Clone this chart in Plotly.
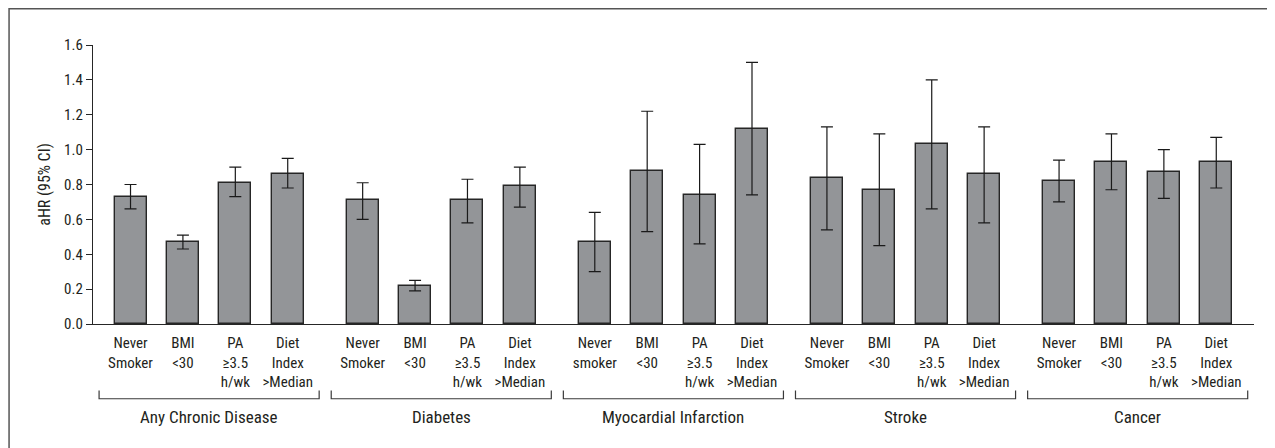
import plotly.graph_objects as go

groups = ["Any Chronic Disease", "Diabetes", "Myocardial Infarction", "Stroke", "Cancer"]
factor_labels = [
    ["Never<br>Smoker", "BMI<br><30", "PA<br>≥3.5<br>h/wk", "Diet<br>Index<br>>Median"],
    ["Never<br>Smoker", "BMI<br><30", "PA<br>≥3.5<br>h/wk", "Diet<br>Index<br>>Median"],
    ["Never<br>smoker", "BMI<br><30", "PA<br>≥3.5<br>h/wk", "Diet<br>Index<br>>Median"],
    ["Never<br>Smoker", "BMI<br><30", "PA<br>≥3.5<br>h/wk", "Diet<br>Index<br>>Median"],
    ["Never<br>Smoker", "BMI<br><30", "PA<br>≥3.5<br>h/wk", "Diet<br>Index<br>>Median"],
]
ahr = [
    [0.73, 0.47, 0.81, 0.86],
    [0.71, 0.22, 0.71, 0.79],
    [0.47, 0.88, 0.74, 1.12],
    [0.84, 0.77, 1.03, 0.86],
    [0.82, 0.93, 0.87, 0.93],
]
ci_low = [
    [0.66, 0.43, 0.73, 0.78],
    [0.60, 0.19, 0.58, 0.67],
    [0.30, 0.53, 0.46, 0.74],
    [0.54, 0.45, 0.66, 0.58],
    [0.70, 0.77, 0.72, 0.78],
]
ci_high = [
    [0.80, 0.51, 0.90, 0.95],
    [0.81, 0.25, 0.83, 0.90],
    [0.64, 1.22, 1.03, 1.50],
    [1.13, 1.09, 1.40, 1.13],
    [0.94, 1.09, 1.00, 1.07],
]
y_ticks = [0.0, 0.2, 0.4, 0.6, 0.8, 1.0, 1.2, 1.4, 1.6]

GROUP_STEP = 4.43
FONT = "Liberation Sans Narrow, Roboto Condensed, Arial Narrow, Liberation Sans, sans-serif"
TXT = "#231f20"

xs, ys, lo, hi, labels = [], [], [], [], []
for g in range(len(groups)):
    for i in range(4):
        xs.append(g * GROUP_STEP + i)
        ys.append(ahr[g][i])
        lo.append(ahr[g][i] - ci_low[g][i])
        hi.append(ci_high[g][i] - ahr[g][i])
        labels.append(factor_labels[g][i])

fig = go.Figure()
fig.add_trace(go.Bar(
    x=xs, y=ys, width=0.61,
    marker=dict(color="#939598", line=dict(color="#262626", width=1.4)),
    error_y=dict(type="data", array=hi, arrayminus=lo, symmetric=False,
                 color="#1a1a1a", thickness=1.2, width=6),
    showlegend=False, hoverinfo="skip",
))

shapes = []
annotations = []
for g, name in enumerate(groups):
    x0 = g * GROUP_STEP - 0.6
    x1 = g * GROUP_STEP + 3 + 0.6
    xc = g * GROUP_STEP + 1.5
    shapes.append(dict(type="path", xref="x", yref="paper",
                       path=f"M {x0},-0.238 L {x0},-0.268 L {x1},-0.268 L {x1},-0.238",
                       line=dict(color="#3a3a3a", width=1.2)))
    annotations.append(dict(x=xc, y=-0.332, xref="x", yref="paper", text=name,
                            showarrow=False, yanchor="middle", xanchor="center",
                            font=dict(family=FONT, size=17, color=TXT)))

# outer frame
shapes.append(dict(type="rect", xref="paper", yref="paper",
                   x0=-0.0723, x1=1.2, y0=-0.8, y1=1.1298,
                   line=dict(color="#555555", width=1.5)))

fig.update_layout(
    width=1275, height=448,
    margin=dict(l=85, r=29, t=37, b=132),
    paper_bgcolor="white", plot_bgcolor="white",
    bargap=0,
    font=dict(family=FONT, size=15, color=TXT),
    xaxis=dict(range=[-0.716, 21.44], tickmode="array", tickvals=xs, ticktext=labels,
               showline=True, linecolor="#262626", linewidth=1.3, ticks="",
               ticklabelstandoff=5,
               showgrid=False, zeroline=False, tickfont=dict(family=FONT, size=15, color=TXT)),
    yaxis=dict(range=[0, 1.6], tickmode="array", tickvals=y_ticks,
               ticktext=[f"{v:.1f}" for v in y_ticks],
               showline=True, linecolor="#262626", linewidth=1.3,
               ticks="outside", ticklen=6, tickcolor="#262626", tickwidth=1.2,
               showgrid=False, zeroline=False,
               title=dict(text="aHR (95% CI)", font=dict(family=FONT, size=16, color=TXT), standoff=9),
               tickfont=dict(family=FONT, size=15, color=TXT)),
    shapes=shapes, annotations=annotations,
)

fig.write_html("out.html")
